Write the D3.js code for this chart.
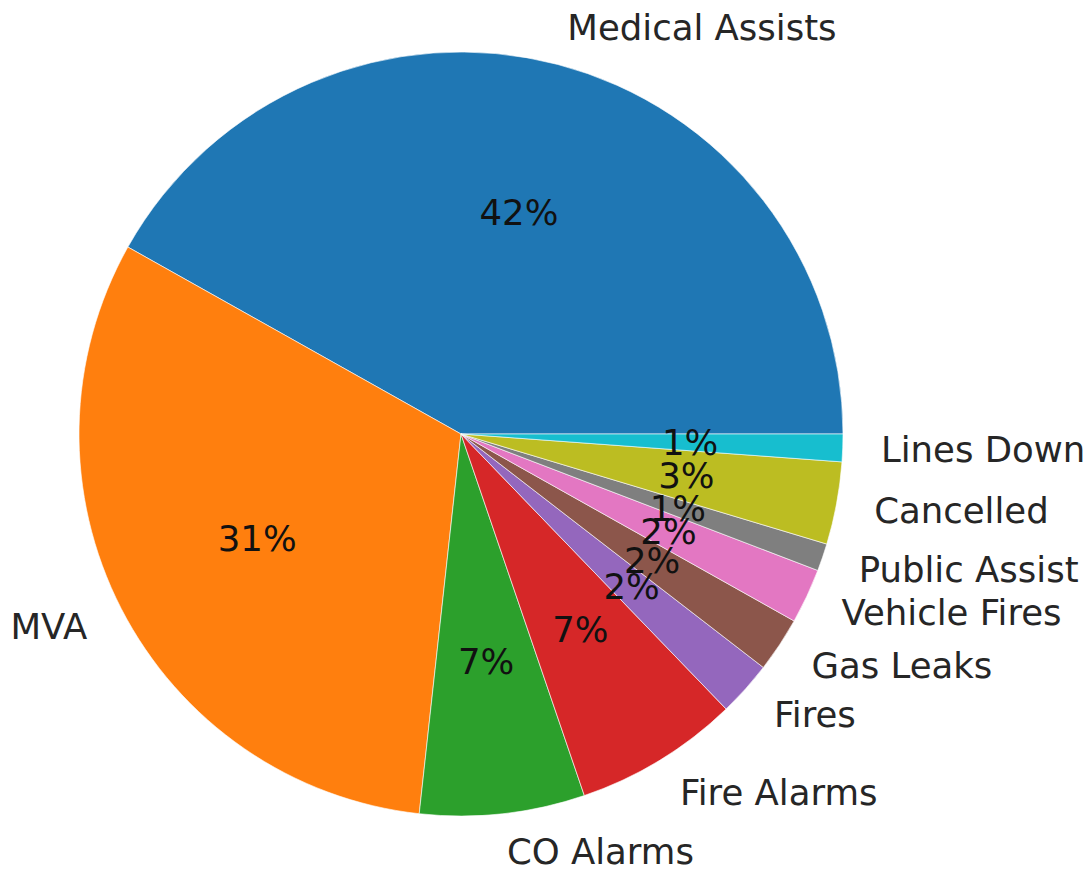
<!DOCTYPE html>
<html>
<head>
<meta charset="UTF-8">
<script src="https://d3js.org/d3.v7.min.js"></script>
<style>
    body { margin: 0; background: #fff; font-family: "DejaVu Sans", sans-serif; }
    .label { font-size: 35.5px; fill: #262626; }
    .pct { font-size: 35.5px; fill: #111; }
</style>
</head>
<body>
<svg id="chart" width="1091" height="871"></svg>
<script>
    // incident types and counts, in matplotlib order (counter-clockwise from 3 o'clock)
    const categories = ["Medical Assists", "MVA", "CO Alarms", "Fire Alarms", "Fires",
                        "Gas Leaks", "Vehicle Fires", "Public Assist", "Cancelled", "Lines Down"];
    const counts = [36, 27, 6, 6, 2, 2, 2, 1, 3, 1];
    const colors = ["#1f77b4", "#ff7f0e", "#2ca02c", "#d62728", "#9467bd",
                    "#8c564b", "#e377c2", "#7f7f7f", "#bcbd22", "#17becf"];

    const cx = 461, cy = 434, r = 382;
    const total = d3.sum(counts);

    const svg = d3.select("#chart");
    const g = svg.append("g").attr("transform", `translate(${cx},${cy})`);

    const data = categories.map((c, i) => ({ name: c, value: counts[i], color: colors[i] }));

    // start at 3 o'clock, go counter-clockwise
    const pie = d3.pie().sort(null).value(d => d.value)
        .startAngle(Math.PI / 2)
        .endAngle(Math.PI / 2 - 2 * Math.PI);

    const arcs = pie(data);
    const arc = d3.arc().innerRadius(0).outerRadius(r);

    g.selectAll("path.slice")
        .data(arcs)
        .enter().append("path")
        .attr("class", "slice")
        .attr("d", arc)
        .attr("fill", d => d.data.color)
        .attr("stroke", "#fff")
        .attr("stroke-width", 0.6);

    const mid = d => (d.startAngle + d.endAngle) / 2;

    g.selectAll("text.label")
        .data(arcs)
        .enter().append("text")
        .attr("class", "label")
        .attr("x", d => Math.sin(mid(d)) * r * 1.1)
        .attr("y", d => -Math.cos(mid(d)) * r * 1.1)
        .attr("text-anchor", d => Math.sin(mid(d)) > 0 ? "start" : "end")
        .attr("dominant-baseline", "central")
        .text(d => d.data.name);

    g.selectAll("text.pct")
        .data(arcs)
        .enter().append("text")
        .attr("class", "pct")
        .attr("x", d => Math.sin(mid(d)) * r * 0.6)
        .attr("y", d => -Math.cos(mid(d)) * r * 0.6)
        .attr("text-anchor", "middle")
        .attr("dominant-baseline", "central")
        .text(d => Math.round(d.data.value / total * 100) + "%");
</script>
</body>
</html>
